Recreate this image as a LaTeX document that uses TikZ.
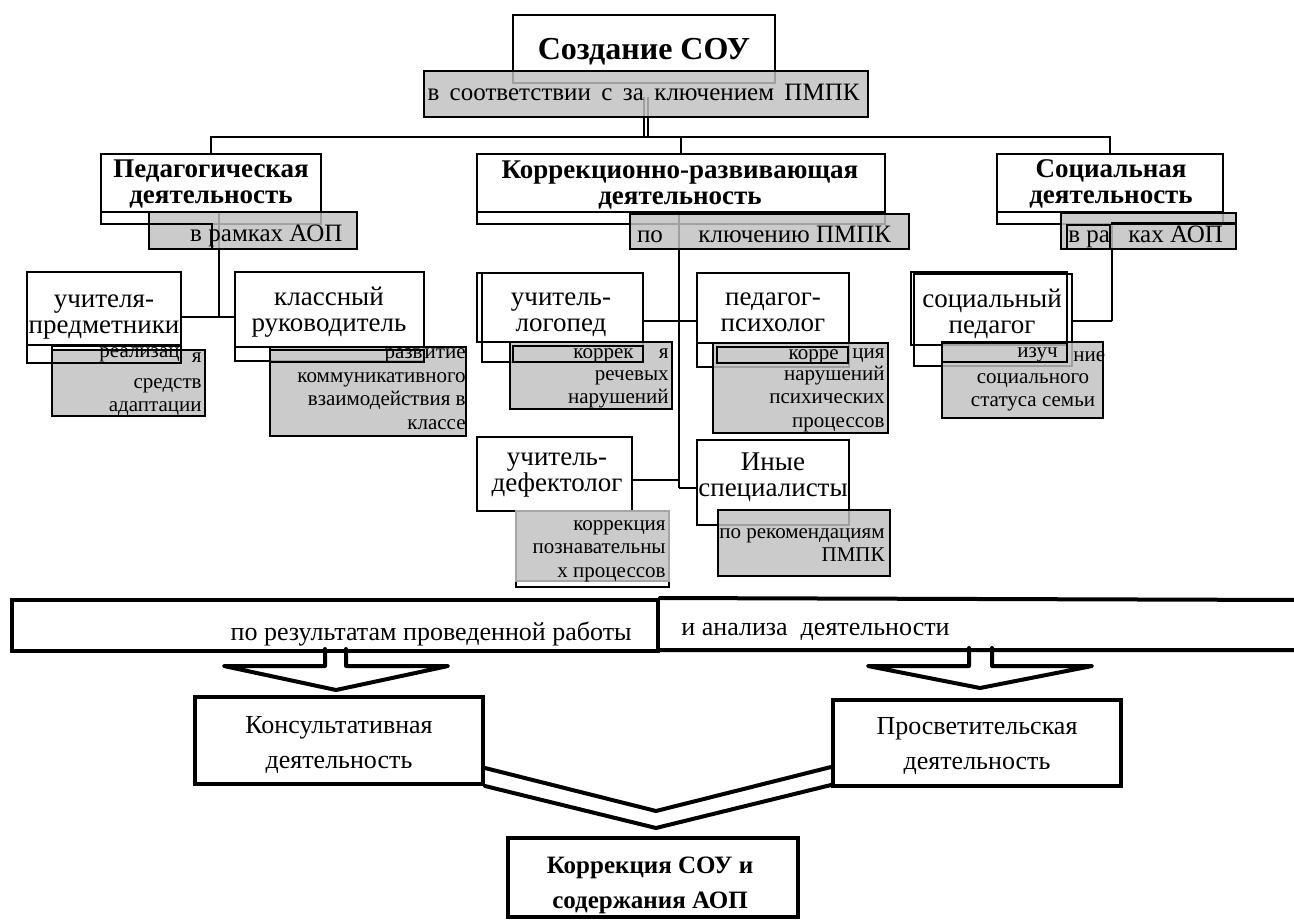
\documentclass[tikz,border=0pt]{standalone}
\usepackage{fontspec}
\setmainfont{Liberation Serif}
\usetikzlibrary{calc,fit}
\definecolor{boxgrey}{RGB}{193,193,193}
\newcommand\rows[2]{\begin{tabular}[t]{@{}#1@{}}#2\end{tabular}}
\tikzset{
	wbox/.style={draw, line width=1.3pt, fill=white, inner sep=0pt},
	gbox/.style={draw, line width=1.3pt, fill=boxgrey, fill opacity=0.83, inner sep=0pt},
	edgebox/.style={draw, line width=1.3pt, inner sep=0pt},
	fatbox/.style={draw, line width=2pt, fill=white, inner sep=0pt},
	link/.style={line width=1.3pt},
	fat/.style={line width=2pt, line join=round, line cap=round},
	ttl/.style={font=\fontsize{16}{19}\selectfont\bfseries, inner sep=0pt},
	hdr/.style={font=\fontsize{13.5}{13}\selectfont\bfseries, inner sep=0pt},
	lbl/.style={font=\fontsize{12.5}{15}\selectfont, inner sep=0pt},
	who/.style={font=\fontsize{13.5}{13}\selectfont, inner sep=0pt},
	note/.style={font=\fontsize{10.5}{11.75}\selectfont, inner sep=0pt},
	low/.style={font=\fontsize{13}{17.5}\selectfont, inner sep=0pt},
	fin/.style={font=\fontsize{12.5}{17.5}\selectfont\bfseries, inner sep=0pt}
}

\begin{document}
\begin{tikzpicture}[x=0.5pt, y=-0.5pt]
			%%%%% START %%%%%
			\useasboundingbox (0,0) rectangle (1294,920);
			
			\node[wbox, fit={(513,15) (775,83)}] (sozd) {};
			\node[ttl, anchor=base] (sozd-t) at (644,60) {Создание СОУ};
			\draw[line width=0.7pt, double, double distance=1.4pt] (646,97) -- (646,137) coordinate (bus);
			\node[gbox, fit={(424,71) (868,117)}] (zakl) {};
			\node[lbl, anchor=base] (zakl-t) at (643.5,100) {\makebox[216pt][s]{в соответствии с за ключением ПМПК}};
			
			\node[wbox, fit={(101,154) (321,224)}] (pedg-x) {};
			\node[wbox, fit={(101,154) (321,212)}] (pedg) {};
			\node[hdr, anchor=base] (pedg-t) at (211,177) {\rows{c}{Педагогическая\\деятельность}};
			\draw[link] (219,212) -- (219,317) coordinate (jP);
			\node[gbox, fit={(149,212) (357,249)}] (aop1) {};
			\node[edgebox, fit={(149,224) (212,249)}] (aop1-in) {};
			\node[lbl, anchor=base] (aop1-a) at (196,241) {в};
			\node[lbl, anchor=base west] (aop1-b) at (208,241) {рамках АОП};
			
			\node[wbox, fit={(477,154) (885,224)}] (korr-x) {};
			\node[wbox, fit={(477,154) (885,212)}] (korr) {};
			\node[hdr, anchor=base] (korr-t) at (680,178) {\rows{c}{Коррекционно-развивающая\\деятельность}};
			\draw[link] (679,214) -- (679,488) coordinate (jK);
			\node[gbox, fit={(630,214) (909,249)}] (zak2) {};
			\node[lbl, anchor=base] (zak2-a) at (650,242) {по};
			\node[lbl, anchor=base west] (zak2-b) at (698,242) {ключению ПМПК};
			
			\node[wbox, fit={(997,154) (1223,224)}] (soc-x) {};
			\node[wbox, fit={(997,154) (1223,212)}] (soc) {};
			\node[hdr, anchor=base] (soc-t) at (1111,177) {\rows{c}{Социальная\\деятельность}};
			\draw[link] (1112,225) -- (1112,321) coordinate (jS);
			\node[gbox, fit={(1061,213) (1236,249)}] (aop2) {};
			\node[edgebox, fit={(1067,225) (1110,249)}] (aop2-in) {};
			\draw[link] (aop2-in.north east) -- (aop2.east |- aop2-in.north);
			\node[lbl, anchor=base west] (aop2-a) at (1068,242) {в ра};
			\node[lbl, anchor=base west] (aop2-b) at (1128,242) {ках АОП};
			
			\draw[link] (pedg.north) |- (bus) -| (soc.north);
			\draw[link] (korr.north) -- (korr.north |- bus);
			
			% third row, left
			\node[wbox, fit={(27,272) (181,363)}] (pred-x) {};
			\node[wbox, fit={(27,272) (181,345)}] (pred) {};
			\node[who, anchor=base] (pred-t) at (104,307) {\rows{c}{учителя-\\предметники}};
			\node[gbox, fit={(52,350) (205,416)}] (pred-g) {};
			\node[edgebox, fit={(52,346) (181,363)}] (pred-s) {};
			\node[note, anchor=base east] (pred-a) at (180,357) {реализац};
			\node[note, anchor=base east] (pred-b) at (202,362) {я};
			\node[note, anchor=base east] (pred-c) at (202,388) {\rows{r}{средств\\адаптации}};
			
			\node[wbox, fit={(235,272) (424,361)}] (klas-x) {};
			\node[wbox, fit={(235,272) (424,347)}] (klas) {};
			\node[who, anchor=base] (klas-t) at (329,305) {\rows{c}{классный\\руководитель}};
			\node[gbox, fit={(270,347) (466,436)}] (klas-g) {};
			\node[edgebox, fit={(270,350) (424,362)}] (klas-s) {};
			\node[note, anchor=base east] (klas-a) at (423,358) {разв};
			\node[note, anchor=base east] (klas-b) at (466,358) {итие};
			\node[note, anchor=base east] (klas-c) at (466,382) {\rows{r}{коммуникативного\\взаимодействия в\\классе}};
			
			\draw[link] (pred.east |- jP) -- (jP) -- (klas.west |- jP);
			
			% third row, middle
			\node[wbox, fit={(477,273) (643,342)}] (logo) {};
			\node[edgebox, fit={(482,273) (643,362)}] (logo-x) {};
			\node[who, anchor=base] (logo-t) at (561,305) {\rows{c}{учитель-\\логопед}};
			\node[gbox, fit={(510,342) (672,409)}] (logo-g) {};
			\node[edgebox, fit={(513,346) (643,362)}] (logo-s) {};
			\node[note, anchor=base east] (logo-a) at (634,358) {коррек};
			\node[note, anchor=base east] (logo-b) at (669,358) {я};
			\node[note, anchor=base east] (logo-c) at (669,380) {\rows{r}{речевых\\нарушений}};
			
			\node[wbox, fit={(697,273) (849,367)}] (psi-x) {};
			\node[wbox, fit={(697,273) (849,343)}] (psi) {};
			\node[who, anchor=base] (psi-t) at (773,305) {\rows{c}{педагог-\\психолог}};
			\node[gbox, fit={(713,343) (888,433)}] (psi-g) {};
			\node[edgebox, fit={(717,347) (848,363)}] (psi-s) {};
			\node[note, anchor=base east] (psi-a) at (839,359) {корре};
			\node[note, anchor=base east] (psi-b) at (885,358) {ция};
			\node[note, anchor=base east] (psi-c) at (885,380) {\rows{r}{нарушений\\психических\\процессов}};
			
			\node[wbox, fit={(477,437) (632,511)}] (defe) {};
			\node[who, anchor=base] (defe-t) at (557,465) {\rows{c}{учитель-\\дефектолог}};
			\node[edgebox, fit={(516,511) (669,587)}] (defe-b) {};
			\node[gbox, draw=black!35, fit={(516,511) (669,581)}] (defe-g) {};
			\node[note, anchor=base east] (defe-c) at (666,530) {\rows{r}{коррекция\\познавательны\\х процессов}};
			
			\node[wbox, fit={(697,440) (849,525)}] (iny) {};
			\node[who, anchor=base] (iny-t) at (773,470) {\rows{c}{Иные\\специалисты}};
			\node[gbox, fit={(718,510) (890,576)}] (iny-g) {};
			\node[note, anchor=base east] (iny-c) at (885,538) {\rows{r}{по рекомендациям\\ПМПК}};
			
			\draw[link] (logo.east |- 0,321) -- (679,321) -- (psi.west |- 0,321);
			\draw[link] (defe.east |- 0,480) -- (679,480);
			\draw[link] (jK) -- (iny.west |- jK);
			
			% third row, right
			\node[wbox, fit={(911,272) (1067,345)}] (socp) {};
			\node[edgebox, fit={(914,274) (1072,366)}] (socp-x) {};
			\node[who, anchor=base] (socp-t) at (992,307) {\rows{c}{социальный\\педагог}};
			\node[gbox, fit={(942,342) (1103,418)}] (socp-g) {};
			\node[edgebox, fit={(942,343) (1067,362)}] (socp-s) {};
			\node[note, anchor=base east] (socp-a) at (1058,357) {изуч};
			\node[note, anchor=base west] (socp-b) at (1073,361) {ние};
			\node[note, anchor=base] (socp-c) at (1033,383) {\rows{c}{социального\\статуса семьи}};
			
			\draw[link] (jS) -- (socp-x.east |- jS);
			
			% bottom
			\node[fatbox, fit={(12,600) (658,651)}] (itog) {};
			\draw[fat] (itog.north east) -- (1300,600) (itog.east |- 0,650) -- (1300,650);
			\node[low, anchor=base east] (itog-a) at (632,640) {по результатам проведенной работы};
			\node[low, anchor=base west] (itog-b) at (681,635) {и анализа\ \ деятельности};
			
			\node[fatbox, fit={(195,697) (483,784)}] (kons) {};
			\node[low, anchor=base] (kons-t) at (339,733) {\rows{c}{Консультативная\\деятельность}};
			\node[fatbox, fit={(833,700) (1121,786)}] (pros) {};
			\node[low, anchor=base] (pros-t) at (977,734) {\rows{c}{Просветительская\\деятельность}};
			\node[fatbox, fit={(508,838) (798,917)}] (korf) {};
			\node[fin, anchor=base] (korf-t) at (650,873) {\rows{c}{Коррекция СОУ и\\содержания АОП}};
			
			\draw[fat] ($(kons.north)+(-14,-46)$) -- ++(0,17) -- ++(-101,0) -- ++(112,24) -- ++(112,-24) -- ++(-102,0) -- ++(0,-17);
			\draw[fat] ($(pros.north)+(-8,-50)$) -- ++(0,18) -- ++(-101,0) -- ++(112,22) -- ++(112,-22) -- ++(-100,0) -- ++(0,-18);
			
			\draw[fat] (kons.east |- 0,768) -- ($(korf.north)+(3,-25)$) -- (pros.west |- 0,767);
			\draw[fat] (kons.south east) -- ($(korf.north)+(3,-8)$) -- (pros.west |- 0,785);
			
			%%%%% END %%%%%
\end{tikzpicture}
\end{document}
